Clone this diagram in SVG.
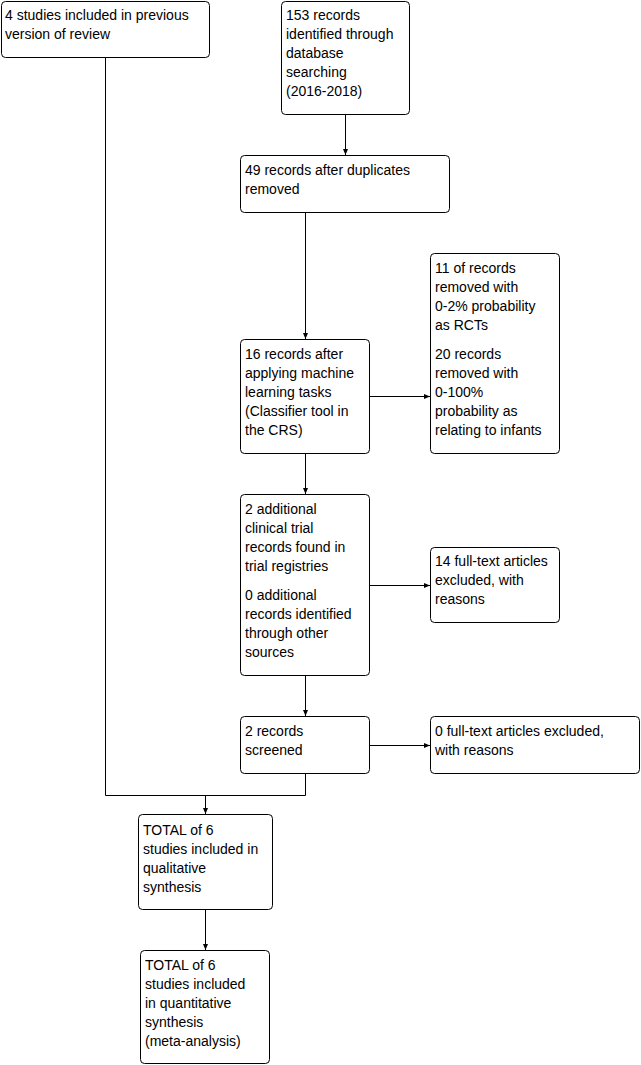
<svg xmlns="http://www.w3.org/2000/svg" width="641" height="1065" viewBox="0 0 641 1065">
<style>
.box{fill:#fff;stroke:#000;stroke-width:1}
.t{font-family:"Liberation Sans",Arial,sans-serif;font-size:14px;fill:#000}
.c{fill:none;stroke:#000;stroke-width:1}
</style>
<defs>
<marker id="ah" markerWidth="6" markerHeight="6" refX="6" refY="3" orient="auto" markerUnits="userSpaceOnUse">
<path d="M0,0.5 L6,3 L0,5.5 Z" fill="#000"/>
</marker>
</defs>
<rect width="641" height="1065" fill="#fff"/>
<g id="connectors">
<path class="c" d="M345.5,114 V155" marker-end="url(#ah)"/>
<path class="c" d="M305.5,212 V339" marker-end="url(#ah)"/>
<path class="c" d="M369,396.5 H430" marker-end="url(#ah)"/>
<path class="c" d="M305.5,453 V494" marker-end="url(#ah)"/>
<path class="c" d="M369,585.5 H430" marker-end="url(#ah)"/>
<path class="c" d="M305.5,675 V716" marker-end="url(#ah)"/>
<path class="c" d="M369,745.5 H430" marker-end="url(#ah)"/>
<path class="c" d="M105.5,57 V795.5 H305.5 V773"/>
<path class="c" d="M205.5,795.5 V814" marker-end="url(#ah)"/>
<path class="c" d="M205.5,909 V950" marker-end="url(#ah)"/>
</g>
<g id="n1">
<rect class="box" x="1.5" y="1.5" width="208" height="56" rx="4"/>
<text class="t" x="5" y="20">4 studies included in previous</text>
<text class="t" x="5" y="39">version of review</text>
</g>
<g id="n2">
<rect class="box" x="281.5" y="1.5" width="128" height="113" rx="4"/>
<text class="t" x="286" y="20">153 records</text>
<text class="t" x="286" y="39">identified through</text>
<text class="t" x="286" y="58">database</text>
<text class="t" x="286" y="77">searching</text>
<text class="t" x="286" y="96">(2016-2018)</text>
</g>
<g id="n3">
<rect class="box" x="240.5" y="155.5" width="209" height="57" rx="4"/>
<text class="t" x="245" y="175">49 records after duplicates</text>
<text class="t" x="245" y="194">removed</text>
</g>
<g id="n4">
<rect class="box" x="240.5" y="339.5" width="129" height="114" rx="4"/>
<text class="t" x="245" y="359">16 records after</text>
<text class="t" x="245" y="378">applying machine</text>
<text class="t" x="245" y="397">learning tasks</text>
<text class="t" x="245" y="416">(Classifier tool in</text>
<text class="t" x="245" y="435">the CRS)</text>
</g>
<g id="n5">
<rect class="box" x="430.5" y="253.5" width="129" height="200" rx="4"/>
<text class="t" x="435" y="273">11 of records</text>
<text class="t" x="435" y="292">removed with</text>
<text class="t" x="435" y="311">0-2% probability</text>
<text class="t" x="435" y="330">as RCTs</text>
<text class="t" x="435" y="359">20 records</text>
<text class="t" x="435" y="378">removed with</text>
<text class="t" x="435" y="397">0-100%</text>
<text class="t" x="435" y="416">probability as</text>
<text class="t" x="435" y="435">relating to infants</text>
</g>
<g id="n6">
<rect class="box" x="240.5" y="494.5" width="129" height="181" rx="4"/>
<text class="t" x="245" y="514">2 additional</text>
<text class="t" x="245" y="533">clinical trial</text>
<text class="t" x="245" y="552">records found in</text>
<text class="t" x="245" y="571">trial registries</text>
<text class="t" x="245" y="600">0 additional</text>
<text class="t" x="245" y="619">records identified</text>
<text class="t" x="245" y="638">through other</text>
<text class="t" x="245" y="657">sources</text>
</g>
<g id="n7">
<rect class="box" x="430.5" y="547.5" width="129" height="75" rx="4"/>
<text class="t" x="435" y="566">14 full-text articles</text>
<text class="t" x="435" y="585">excluded, with</text>
<text class="t" x="435" y="604">reasons</text>
</g>
<g id="n8">
<rect class="box" x="240.5" y="716.5" width="129" height="57" rx="4"/>
<text class="t" x="245" y="736">2 records</text>
<text class="t" x="245" y="755">screened</text>
</g>
<g id="n9">
<rect class="box" x="430.5" y="716.5" width="209" height="57" rx="4"/>
<text class="t" x="435" y="736">0 full-text articles excluded,</text>
<text class="t" x="435" y="755">with reasons</text>
</g>
<g id="n10">
<rect class="box" x="138.5" y="814.5" width="134" height="95" rx="4"/>
<text class="t" x="143" y="835">TOTAL of 6</text>
<text class="t" x="143" y="854">studies included in</text>
<text class="t" x="143" y="873">qualitative</text>
<text class="t" x="143" y="892">synthesis</text>
</g>
<g id="n11">
<rect class="box" x="140.5" y="950.5" width="129" height="113" rx="4"/>
<text class="t" x="145" y="970">TOTAL of 6</text>
<text class="t" x="145" y="989">studies included</text>
<text class="t" x="145" y="1008">in quantitative</text>
<text class="t" x="145" y="1027">synthesis</text>
<text class="t" x="145" y="1046">(meta-analysis)</text>
</g>
</svg>
